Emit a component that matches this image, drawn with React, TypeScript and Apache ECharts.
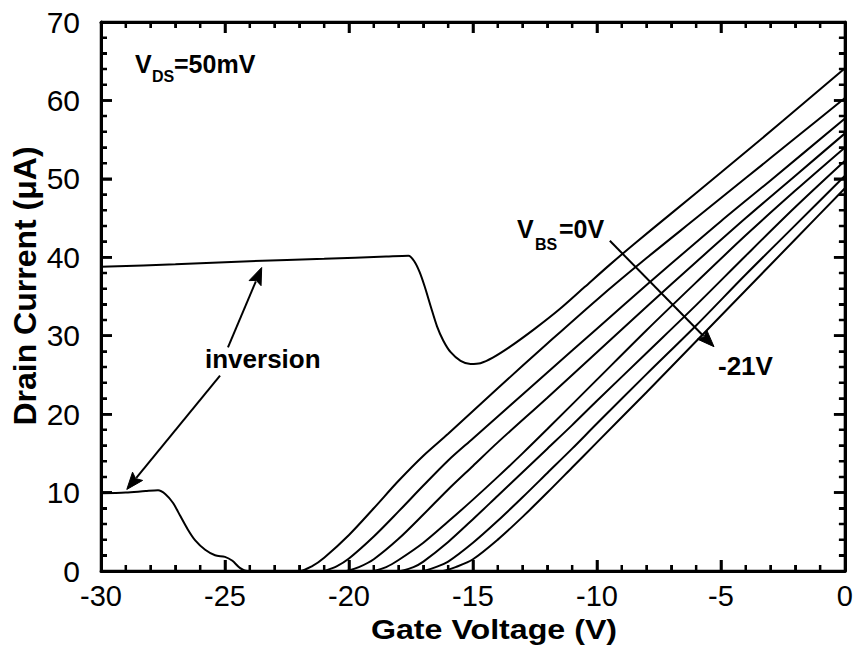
import React, { useEffect, useRef } from "react";
import * as echarts from "echarts";

const FONT = '"Liberation Sans", Arial, Helvetica, sans-serif';

// Axis ranges (gate voltage in V, drain current in µA)
const X_MIN = -30;
const X_MAX = 0;
const X_STEP = 5;
const X_MINOR = 1;
const Y_MIN = 0;
const Y_MAX = 70;
const Y_STEP = 10;
const Y_MINOR = 2;

const X_TITLE = "Gate Voltage (V)";
const Y_TITLE = "Drain Current (\u03bcA)";

// Back-bias steps, one curve each
const vbsLabels = ["0V", "-3V", "-6V", "-9V", "-12V", "-15V", "-18V", "-21V"];

// VBS = 0 V: inversion plateau, dip, then the linear rise
const curve0: [number, number][] = [
  [-30, 38.8], [-27, 39.1], [-24, 39.5], [-21, 39.8], [-18.5, 40.1], [-17.6, 40.2],
  [-17.35, 39.4], [-17.15, 38.1], [-16.95, 36.3], [-16.7, 33.7], [-16.45, 31.2],
  [-16.2, 29.4], [-15.9, 27.9], [-15.5, 26.8], [-15.1, 26.4], [-14.7, 26.5],
  [-14.2, 27.2], [-13.5, 28.6], [-12.5, 30.9], [-11.5, 33.4], [-10.5, 36.2],
  [-9.5, 39.0], [-8.5, 41.7], [-7, 45.6], [-5, 50.8], [-2.5, 57.4], [0, 64.1],
];

// VBS = -3 V: low inversion level, falls to zero, then turns on
const curve1: [number, number][] = [
  [-30, 9.9], [-29, 10.0], [-28.2, 10.2], [-27.7, 10.3], [-27.4, 9.8], [-27.1, 8.7],
  [-26.8, 7.0], [-26.5, 5.3], [-26.2, 3.9], [-25.8, 2.7], [-25.4, 2.0], [-25.0, 1.8],
  [-24.7, 1.3], [-24.4, 0.4], [-24.1, 0], [-22.0, 0], [-21.5, 0.6], [-21, 1.7],
  [-20, 4.6], [-19, 8.0], [-18, 11.5], [-17, 14.7], [-16, 17.5], [-14, 23.3],
  [-12, 29.0], [-10, 34.6], [-8, 39.9], [-6, 45.0], [-4, 50.1], [-2, 55.2], [0, 60.3],
];

const curve2: [number, number][] = [
  [-21, 0], [-20.5, 0.6], [-20, 1.6], [-19, 4.4], [-18, 7.6], [-17, 10.9], [-16, 14.1],
  [-15, 16.9], [-13, 22.5], [-11, 28.1], [-9, 33.7], [-7, 39.2], [-5, 44.6], [-3, 49.8], [0, 57.7],
];

const curve3: [number, number][] = [
  [-20.1, 0], [-19.6, 0.5], [-19, 1.5], [-18, 4.1], [-17, 7.2], [-16, 10.4], [-15, 13.4],
  [-14, 16.4], [-12, 22.1], [-10, 27.9], [-8, 33.7], [-6, 39.4], [-4, 45.0], [-2, 50.4], [0, 55.8],
];

const curve4: [number, number][] = [
  [-19, 0], [-18.5, 0.5], [-18, 1.4], [-17, 3.6], [-16, 6.3], [-15, 9.1], [-14, 12.0],
  [-13, 15.0], [-12, 18.1], [-10, 24.4], [-8, 30.7], [-6, 36.8], [-4, 42.8], [-2, 48.5], [0, 54.0],
];

const curve5: [number, number][] = [
  [-17.9, 0], [-17.4, 0.5], [-17, 1.2], [-16, 3.7], [-15, 6.6], [-14, 9.6], [-13, 12.6],
  [-12, 15.6], [-11, 18.6], [-10, 21.7], [-8, 27.8], [-6, 33.9], [-4, 40.2], [-2, 46.4], [0, 52.3],
];

const curve6: [number, number][] = [
  [-17, 0], [-16.5, 0.5], [-16, 1.2], [-15, 3.6], [-14, 6.4], [-13, 9.4], [-12, 12.5],
  [-11, 15.6], [-10, 18.8], [-8, 25.1], [-6, 31.3], [-4, 37.8], [-2, 44.1], [0, 50.4],
];

const curve7: [number, number][] = [
  [-16.2, 0], [-15.7, 0.5], [-15, 1.5], [-14, 4.0], [-13, 6.9], [-12, 10.0], [-11, 13.2],
  [-10, 16.4], [-8, 22.8], [-6, 29.3], [-4, 35.8], [-2, 42.3], [0, 48.8],
];

const curves = [curve0, curve1, curve2, curve3, curve4, curve5, curve6, curve7];

// Annotation arrows in data units: [tail, head]
const inversionArrowUp: [number, number][] = [[-24.88, 28.5], [-23.52, 38.7]];
const inversionArrowDown: [number, number][] = [[-25.2, 24.9], [-28.96, 10.4]];
const vbsArrow: [number, number][] = [[-9.48, 42.1], [-5.28, 28.6]];
const arrows = [inversionArrowUp, inversionArrowDown, vbsArrow];

// Inward frame ticks: [value, isMajor]
function tickList(min: number, max: number, minor: number, major: number): number[][] {
  const out: number[][] = [];
  const n = Math.round((max - min) / minor);
  for (let i = 1; i < n; i++) {
    const v = min + i * minor;
    out.push([v, Math.abs(v / major - Math.round(v / major)) < 1e-6 ? 1 : 0]);
  }
  return out;
}
const xTicks = tickList(X_MIN, X_MAX, X_MINOR, X_STEP);
const yTicks = tickList(Y_MIN, Y_MAX, Y_MINOR, Y_STEP);

function frameAxis(position: string, min: number, max: number, step: number, label?: any) {
  return {
    type: "value",
    position,
    min,
    max,
    interval: step,
    axisLine: { show: true, onZero: false, lineStyle: { color: "#000", width: 3 } },
    axisTick: { show: true, inside: true, length: 11, lineStyle: { color: "#000", width: 2.5 } },
    minorTick: { show: true, splitNumber: 5, length: 6, lineStyle: { color: "#000", width: 2 } },
    splitLine: { show: false },
    axisLabel: label ? { show: true, color: "#000", fontFamily: FONT, ...label } : { show: false },
  };
}

function text(x: number, y: number, t: string, size: number, extra: any = {}) {
  return {
    type: "text",
    x,
    y,
    silent: true,
    ...extra,
    style: {
      text: t,
      fill: "#000",
      fontSize: size,
      fontWeight: "bold",
      fontFamily: FONT,
      align: "left",
      verticalAlign: "middle",
      ...(extra.style || {}),
    },
  };
}

// One polyline per side: runs along the frame and steps in and out at each tick
function tickRun(points: number[][]) {
  return {
    type: "polyline",
    silent: true,
    z: 100,
    shape: { points },
    style: { stroke: "#000", lineWidth: 2.5, fill: null, lineJoin: "bevel" },
  };
}

// Straight shaft with a filled head at the second point
function arrowShape(p0: number[], p1: number[]) {
  const dx = p1[0] - p0[0];
  const dy = p1[1] - p0[1];
  const len = Math.hypot(dx, dy);
  const ux = dx / len;
  const uy = dy / len;
  const headLen = 17;
  const halfW = 6.5;
  const bx = p1[0] - ux * headLen;
  const by = p1[1] - uy * headLen;
  return [
    {
      type: "line",
      silent: true,
      z: 100,
      shape: { x1: p0[0], y1: p0[1], x2: bx + ux * 2, y2: by + uy * 2 },
      style: { stroke: "#000", lineWidth: 2 },
    },
    {
      type: "polygon",
      silent: true,
      z: 100,
      shape: {
        points: [
          [p1[0], p1[1]],
          [bx - uy * halfW, by + ux * halfW],
          [bx + ux * 3, by + uy * 3],
          [bx + uy * halfW, by - ux * halfW],
        ],
      },
      style: { fill: "#000", stroke: "#000", lineWidth: 1 },
    },
  ];
}

export default function App() {
  const ref = useRef<HTMLDivElement>(null);

  useEffect(() => {
    const chart = echarts.init(ref.current!, null, { renderer: "svg" });

    const series = curves.map((data, i) => ({
      name: vbsLabels[i],
      type: "line",
      data,
      smooth: 0.3,
      showSymbol: false,
      silent: true,
      lineStyle: { color: "#000", width: 2 },
    }));

    chart.setOption({
      animation: false,
      backgroundColor: "#fff",
      grid: { left: 101, right: 4, top: 22, bottom: 74 },
      xAxis: [
        frameAxis("bottom", X_MIN, X_MAX, X_STEP, { fontSize: 29, margin: 10 }),
        frameAxis("top", X_MIN, X_MAX, X_STEP),
      ],
      yAxis: [
        frameAxis("left", Y_MIN, Y_MAX, Y_STEP, { fontSize: 30, margin: 21 }),
        frameAxis("right", Y_MIN, Y_MAX, Y_STEP),
      ],
      series,
    });

    const toPx = (p: number[]) => chart.convertToPixel({ gridIndex: 0 }, p) as number[];

    // frame ticks, placed through the axis scales
    const bottomRun: number[][] = [toPx([X_MIN, Y_MIN])];
    const topRun: number[][] = [toPx([X_MIN, Y_MAX])];
    xTicks.forEach(([v, m]) => {
      const len = m ? 11 : 6;
      const b = toPx([v, Y_MIN]);
      const t = toPx([v, Y_MAX]);
      bottomRun.push([b[0], b[1]], [b[0], b[1] - len], [b[0], b[1]]);
      topRun.push([t[0], t[1]], [t[0], t[1] + len], [t[0], t[1]]);
    });
    bottomRun.push(toPx([X_MAX, Y_MIN]));
    topRun.push(toPx([X_MAX, Y_MAX]));

    const leftRun: number[][] = [toPx([X_MIN, Y_MIN])];
    const rightRun: number[][] = [toPx([X_MAX, Y_MIN])];
    yTicks.forEach(([v, m]) => {
      const len = m ? 11 : 6;
      const l = toPx([X_MIN, v]);
      const r = toPx([X_MAX, v]);
      leftRun.push([l[0], l[1]], [l[0] + len, l[1]], [l[0], l[1]]);
      rightRun.push([r[0], r[1]], [r[0] - len, r[1]], [r[0], r[1]]);
    });
    leftRun.push(toPx([X_MIN, Y_MAX]));
    rightRun.push(toPx([X_MAX, Y_MAX]));

    const arrowEls: any[] = [];
    arrows.forEach(([a, b]) => arrowEls.push(...arrowShape(toPx(a), toPx(b))));

    chart.setOption({
      graphic: [
        text(494, 629, X_TITLE, 28, { scaleX: 1.15, style: { align: "center" } }),
        text(25, 286, Y_TITLE, 32, { rotation: Math.PI / 2, style: { align: "center" } }),
        text(135, 64, "V", 25),
        text(152, 76.5, "DS", 16),
        text(174, 64, "=50mV", 25),
        text(517, 229, "V", 25),
        text(535, 244.5, "BS", 16),
        text(559, 229, "=0V", 25),
        text(718, 366, "-21V", 26),
        text(205, 359, "inversion", 26),
        tickRun(bottomRun),
        tickRun(topRun),
        tickRun(leftRun),
        tickRun(rightRun),
        ...arrowEls,
      ],
    });

    return () => chart.dispose();
  }, []);

  return (
    <div
      ref={ref}
      style={{ position: "fixed", left: 0, top: 0, width: 856, height: 645, background: "#fff" }}
    />
  );
}
